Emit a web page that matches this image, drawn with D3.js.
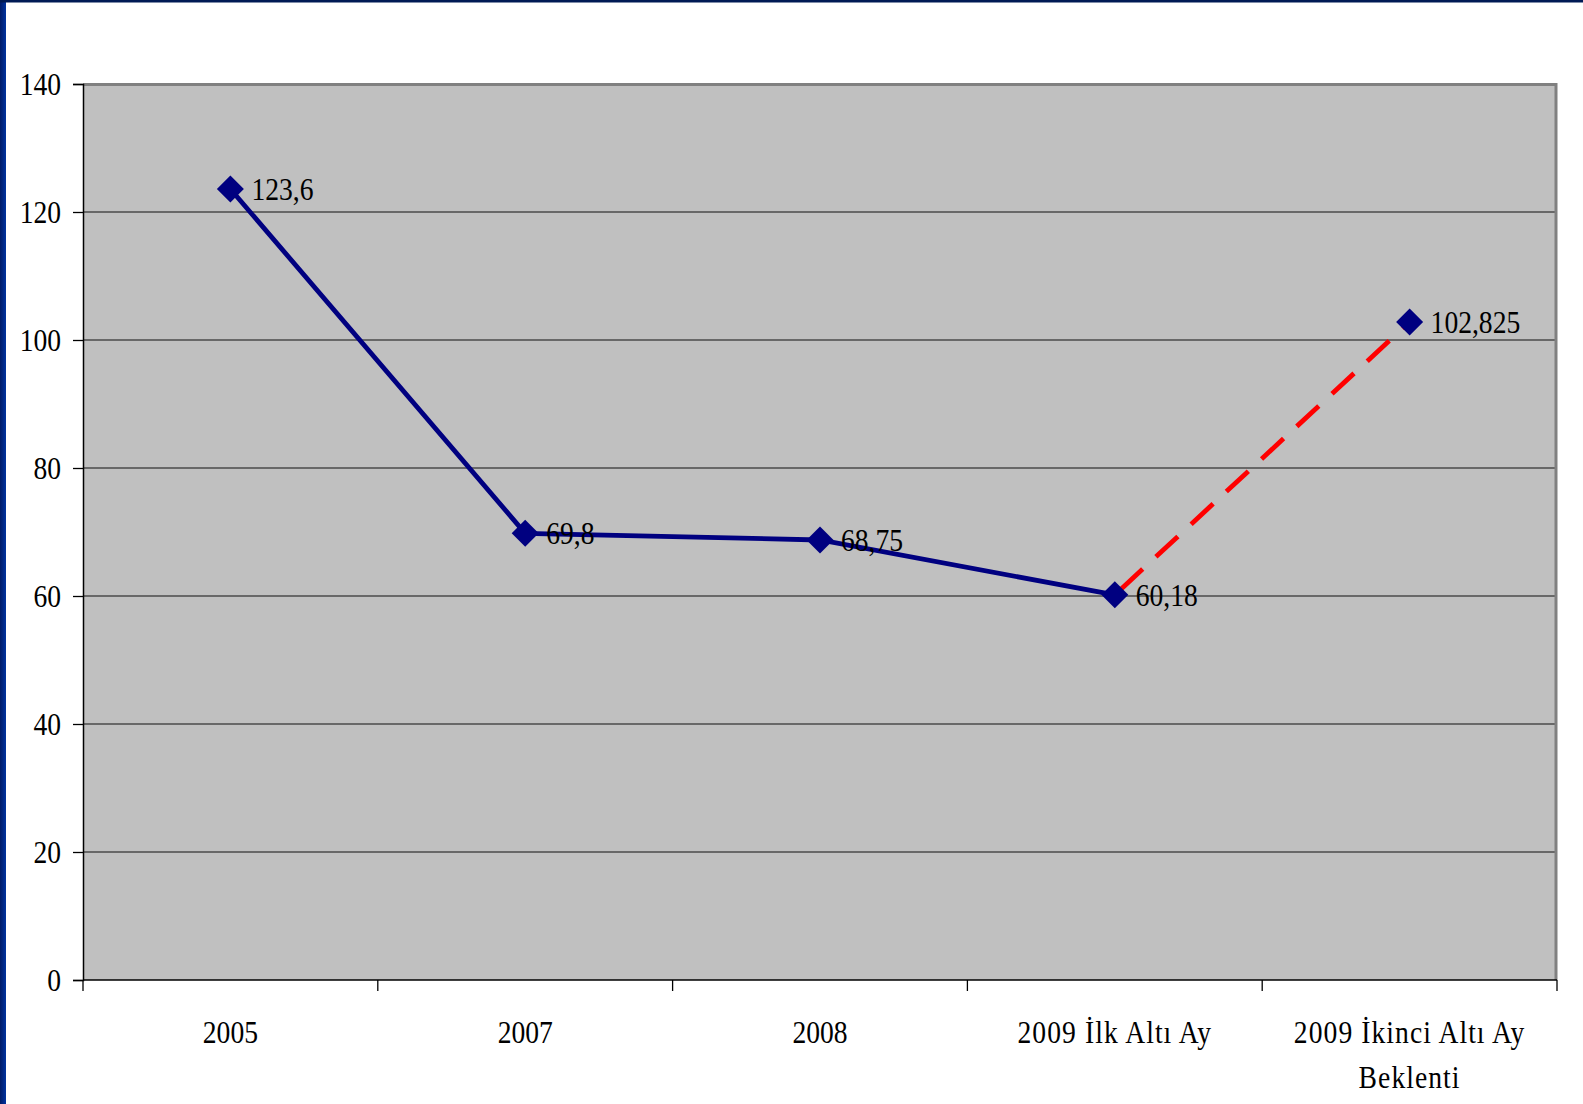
<!DOCTYPE html>
<html>
<head>
<meta charset="utf-8">
<script src="https://cdn.jsdelivr.net/npm/d3@7"></script>
<style>
  body { margin: 0; background: #fff; }
  text { font-family: "Liberation Serif", "Times New Roman", serif; fill: #000; }
</style>
</head>
<body>
<div id="chart"></div>
<script>
// data
var categories = ["2005", "2007", "2008", "2009 İlk Altı Ay", "2009 İkinci Altı Ay\nBeklenti"];
var values = [123.6, 69.8, 68.75, 60.18, 102.825];
var valueLabels = ["123,6", "69,8", "68,75", "60,18", "102,825"];
var forecastFrom = 3; // dashed segment starts at this index
var yTicks = [0, 20, 40, 60, 80, 100, 120, 140];

var W = 1583, H = 1104;
var plot = {left: 83, top: 84, right: 1557, bottom: 980};
var squeeze = 0.89; // text looks horizontally compressed

var svg = d3.select("#chart").append("svg")
    .attr("width", W)
    .attr("height", H);

// blue frame on the left / top
var defs = svg.append("defs");
var grad = defs.append("linearGradient").attr("id", "frame").attr("x1", 0).attr("x2", 1);
grad.append("stop").attr("offset", "0%").attr("stop-color", "#001a66");
grad.append("stop").attr("offset", "100%").attr("stop-color", "#0033a0");
svg.append("rect").attr("x", 0).attr("y", 0).attr("width", 6).attr("height", H).attr("fill", "url(#frame)");
svg.append("rect").attr("x", 0).attr("y", 0).attr("width", W).attr("height", 2.5).attr("fill", "#001a55");

var x = d3.scaleBand()
    .domain(categories)
    .range([plot.left, plot.right])
    .padding(0);

var y = d3.scaleLinear()
    .domain([0, 140])
    .range([plot.bottom, plot.top]);

// plot background
svg.append("rect")
    .attr("x", plot.left).attr("y", plot.top)
    .attr("width", plot.right - plot.left)
    .attr("height", plot.bottom - plot.top)
    .attr("fill", "#c0c0c0");

// gridlines
svg.append("g").selectAll("line")
    .data(yTicks.filter(function(d){ return d > 0 && d < 140; }))
    .enter().append("line")
    .attr("x1", plot.left).attr("x2", plot.right)
    .attr("y1", function(d){ return y(d); })
    .attr("y2", function(d){ return y(d); })
    .attr("stroke", "#111")
    .attr("stroke-width", 1.2);

// grey border top + right
svg.append("path")
    .attr("d", "M" + plot.left + "," + (plot.top + 0.5) + "H" + (plot.right - 1) + "V" + plot.bottom)
    .attr("fill", "none")
    .attr("stroke", "#808080")
    .attr("stroke-width", 3);

// y axis
var yAxis = svg.append("g")
    .attr("transform", "translate(" + plot.left + ",0)")
    .call(d3.axisLeft(y).tickValues(yTicks).tickSize(10).tickPadding(12).tickFormat(d3.format("d")));
yAxis.select(".domain").attr("stroke", "#000").attr("stroke-width", 1.5);
yAxis.selectAll(".tick line").attr("stroke", "#000").attr("stroke-width", 1.3);
yAxis.selectAll(".tick text")
    .style("font-family", "Liberation Serif")
    .style("font-size", "31px")
    .attr("dy", "0.34em")
    .each(function() {
        var t = d3.select(this);
        var xx = +t.attr("x");
        t.attr("x", null).attr("transform", "translate(" + xx + ",0) scale(" + squeeze + ",1)");
    });

// x axis line + boundary ticks
var xg = svg.append("g");
xg.append("line")
    .attr("x1", plot.left).attr("x2", plot.right)
    .attr("y1", plot.bottom).attr("y2", plot.bottom)
    .attr("stroke", "#000").attr("stroke-width", 1.5);
var bounds = categories.map(function(c){ return x(c); }).concat([x(categories[categories.length - 1]) + x.bandwidth()]);
xg.selectAll("line.tk")
    .data(bounds)
    .enter().append("line")
    .attr("class", "tk")
    .attr("x1", function(d){ return d; }).attr("x2", function(d){ return d; })
    .attr("y1", plot.bottom).attr("y2", plot.bottom + 11)
    .attr("stroke", "#000").attr("stroke-width", 1.3);

// x labels
var xl = xg.selectAll("text.cat")
    .data(categories)
    .enter().append("text")
    .attr("class", "cat")
    .attr("text-anchor", "middle")
    .attr("transform", function(d){
        return "translate(" + (x(d) + x.bandwidth() / 2) + "," + 1043 + ") scale(" + squeeze + ",1)";
    })
    .style("font-size", "31px")
    .style("letter-spacing", function(d){ return /[a-z]/i.test(d) ? "1.2px" : null; });
xl.each(function(d) {
    var t = d3.select(this);
    d.split("\n").forEach(function(line, i) {
        t.append("tspan").attr("x", 0).attr("dy", i === 0 ? 0 : 45).text(line);
    });
});

var cx = function(i){ return x(categories[i]) + x.bandwidth() / 2; };
var pts = values.map(function(v, i){ return [cx(i), y(v)]; });

// solid part
svg.append("path")
    .datum(pts.slice(0, forecastFrom + 1))
    .attr("d", d3.line())
    .attr("fill", "none")
    .attr("stroke", "#000080")
    .attr("stroke-width", 4.8);

// dashed forecast part
svg.append("path")
    .datum(pts.slice(forecastFrom))
    .attr("d", d3.line())
    .attr("fill", "none")
    .attr("stroke", "#ff0000")
    .attr("stroke-width", 4.8)
    .attr("stroke-dasharray", "30,18")
    .attr("stroke-dashoffset", -8);

// markers
svg.append("g").selectAll("path")
    .data(pts)
    .enter().append("path")
    .attr("transform", function(d){ return "translate(" + d[0] + "," + d[1] + ")"; })
    .attr("d", "M0,-13.5L13.5,0L0,13.5L-13.5,0Z")
    .attr("fill", "#000080");

// value labels
svg.append("g").selectAll("text")
    .data(pts)
    .enter().append("text")
    .attr("transform", function(d){ return "translate(" + (d[0] + 21) + "," + (d[1] + 11) + ") scale(" + squeeze + ",1)"; })
    .style("font-size", "31px")
    .text(function(d, i){ return valueLabels[i]; });
</script>
</body>
</html>
